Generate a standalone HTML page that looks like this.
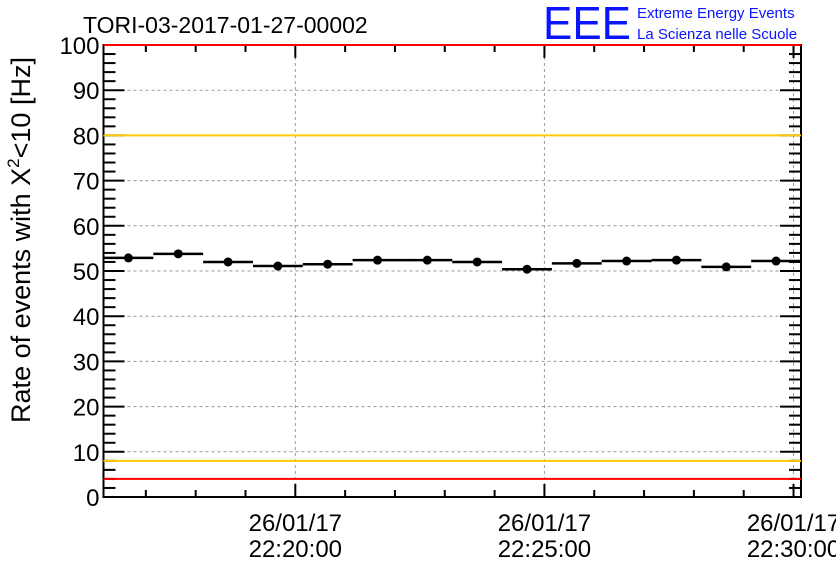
<!DOCTYPE html>
<html><head><meta charset="utf-8"><style>
body{margin:0;background:#fff;}
svg text{font-family:"Liberation Sans",Arial,sans-serif;}
</style></head><body>
<svg width="836" height="572" viewBox="0 0 836 572">
<text x="83" y="33" font-size="23">TORI-03-2017-01-27-00002</text>
<g>
<text x="543" y="39" font-size="46" fill="#0a14ff" textLength="88" lengthAdjust="spacingAndGlyphs">EEE</text>
<text x="637" y="18" font-size="15" fill="#0a14ff">Extreme Energy Events</text>
<text x="637" y="39" font-size="15" fill="#0a14ff">La Scienza nelle Scuole</text>
</g>
<text transform="translate(30,240) rotate(-90)" text-anchor="middle" font-size="27">Rate of events with X<tspan dy="-11" font-size="17">2</tspan><tspan dy="11">&lt;10 [Hz]</tspan></text>
<g id="grid"></g><g id="axes"></g><g id="marks"></g>
</svg>
<script>
const values=[52.9,53.8,52.0,51.1,51.5,52.4,52.4,52.0,50.4,51.7,52.2,52.4,50.9,52.2];
const binStartMin=[-3.85,-2.85,-1.85,-0.85,0.15,1.15,2.15,3.15,4.15,5.15,6.15,7.15,8.15,9.15];
const yTicks=[0,10,20,30,40,50,60,70,80,90,100];
const xTickMin=[0,5,10];
const xTickLabels=[["26/01/17","22:20:00"],["26/01/17","22:25:00"],["26/01/17","22:30:00"]];
const redLevels=[100,4];
const yellowLevels=[80,8];
const X0=103.5,X1=801,Y0=497,Y1=45,xMin=-3.85,xMax=10.15;
const ns="http://www.w3.org/2000/svg";
const sx=m=>X0+(m-xMin)/(xMax-xMin)*(X1-X0);
const sy=v=>Y0-v/100*(Y0-Y1);
function mk(t,a,p){const e=document.createElementNS(ns,t);for(const k in a)e.setAttribute(k,a[k]);p.appendChild(e);return e;}
const grid=document.getElementById('grid'),axes=document.getElementById('axes'),marks=document.getElementById('marks');
yTicks.forEach(v=>{if(v>0&&v<100){const l=mk('line',{x1:X0,x2:X1,y1:sy(v),y2:sy(v),stroke:'#999','stroke-dasharray':'3,3','stroke-width':1},grid);

}});
xTickMin.forEach(m=>{const l=mk('line',{x1:sx(m),x2:sx(m),y1:Y1,y2:Y0,stroke:'#999','stroke-dasharray':'3,3','stroke-width':1},grid);

});
const box=mk('rect',{x:X0,y:Y1,width:X1-X0,height:Y0-Y1,fill:'none',stroke:'#000','stroke-width':2},axes);


for(let v=0;v<=100;v+=2){const major=v%10===0;const len=major?21:12;
mk('line',{x1:X0,x2:X0+len,y1:sy(v),y2:sy(v),stroke:'#000','stroke-width':2},axes);
mk('line',{x1:X1-len,x2:X1,y1:sy(v),y2:sy(v),stroke:'#000','stroke-width':2},axes);}
yTicks.forEach(v=>{const t=mk('text',{x:X0-4,y:sy(v)+9,'text-anchor':'end','font-size':24},axes);t.textContent=v;

});
for(let m=-3;m<=10;m++){const major=m%5===0;const len=major?13:7;
mk('line',{x1:sx(m),x2:sx(m),y1:Y0-len,y2:Y0,stroke:'#000','stroke-width':2},axes);
mk('line',{x1:sx(m),x2:sx(m),y1:Y1,y2:Y1+len,stroke:'#000','stroke-width':2},axes);}
xTickMin.forEach((m,i)=>{const t=mk('text',{x:sx(m),y:531,'text-anchor':'middle','font-size':24},axes);


const a=mk('tspan',{x:sx(m)},t);a.textContent=xTickLabels[i][0];
const b=mk('tspan',{x:sx(m),dy:26},t);b.textContent=xTickLabels[i][1];});
redLevels.forEach(v=>{const l=mk('line',{x1:X0,x2:X1,y1:sy(v),y2:sy(v),stroke:'#ff0000','stroke-width':2},marks);

});
yellowLevels.forEach(v=>{const l=mk('line',{x1:X0,x2:X1,y1:sy(v),y2:sy(v),stroke:'#ffcc00','stroke-width':2},marks);

});
values.forEach((v,i)=>{const a=binStartMin[i],b=a+1,c=a+0.5;
const l=mk('line',{x1:sx(a),x2:sx(b),y1:sy(v),y2:sy(v),stroke:'#000','stroke-width':2.5},marks);


const p=mk('circle',{cx:sx(c),cy:sy(v),r:4.5,fill:'#000'},marks);

});
</script>
</body></html>
